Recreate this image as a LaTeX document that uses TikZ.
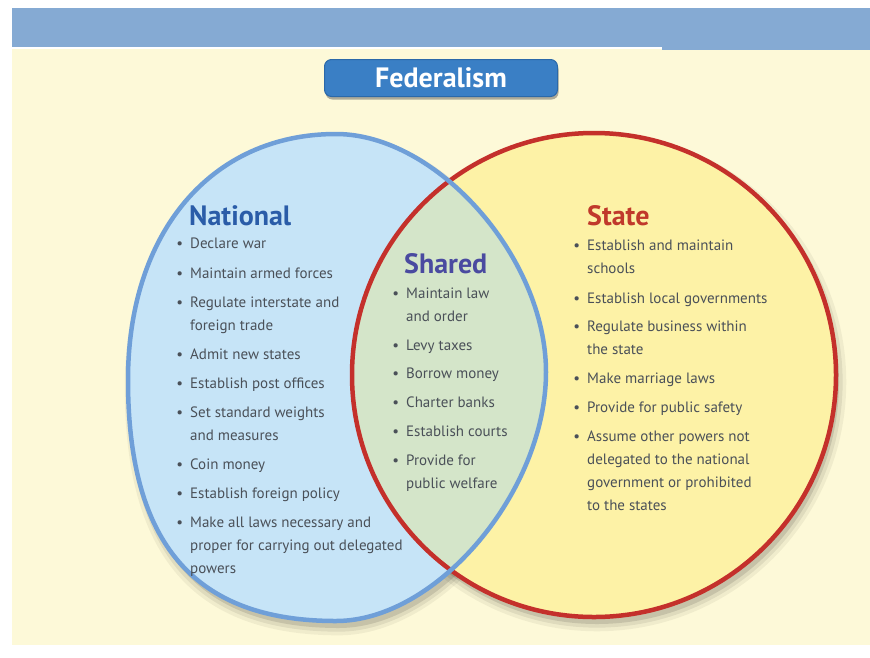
\documentclass[tikz,border=0pt]{standalone}
\usepackage{fontspec}
\setmainfont{PT Sans}
\usetikzlibrary{shadows}
\definecolor{cream}{HTML}{FDF9D8}
\definecolor{topbar}{HTML}{85AAD3}
\definecolor{lblue}{HTML}{C6E4F7}
\definecolor{yel}{HTML}{FDF2A6}
\definecolor{lens}{HTML}{D4E5C9}
\definecolor{bline}{HTML}{6F9FD8}
\definecolor{rline}{HTML}{C4302B}
\definecolor{natblue}{HTML}{2A5CA8}
\definecolor{statered}{HTML}{C0392B}
\definecolor{sharedc}{HTML}{4A4AA0}
\definecolor{txtgray}{HTML}{4A5058}
\definecolor{btnfill}{HTML}{3A7FC5}
\definecolor{btnedge}{HTML}{2B69A9}
\newcommand{\bl}{\llap{\textbullet\hspace{7pt}}}
\newcommand{\ml}[1]{\begin{tabular}[t]{@{}l@{}}#1\end{tabular}}
\tikzset{
  itemtxt/.style={anchor=base west, align=left, inner sep=0pt, text=txtgray,
    font=\fontsize{15}{23}\selectfont},
  headtxt/.style={anchor=base west, inner sep=0pt, font=\fontsize{28}{30}\selectfont\bfseries},
  btn/.style={rounded corners=7pt, fill=btnfill, draw=btnedge, line width=1pt,
    minimum width=233pt, minimum height=37pt, text=white,
    font=\fontsize{28}{30}\selectfont\bfseries,
    drop shadow={shadow xshift=1pt, shadow yshift=-3pt, opacity=0.45, fill=black!70}},
  natshape/.style={insert path={(336,134) .. controls (436.8,134) and (546,257.8) .. (546,372)
     .. controls (546,491.5) and (436.8,621) .. (336,621)
     .. controls (194.6,621) and (128,543.9) .. (128,380)
     .. controls (128,232.4) and (211.2,134) .. (336,134) -- cycle}},
}
\begin{document}
\begin{tikzpicture}[x=1pt,y=-1pt]
\useasboundingbox (0,0) rectangle (870,657);
\fill[white] (0,0) rectangle (870,657);
\fill[cream] (12,49) rectangle (870,645);
\fill[topbar] (12,8) rectangle (870,47);
\fill[topbar] (662,47) rectangle (870,49.5);
% shadows
\foreach \s/\o in {1.03/0.05,1.015/0.07,1.0/0.11}{
  \begin{scope}[shift={(339,384)}, scale=\s, shift={(-336,-377)}]
    \fill[black,opacity=\o, natshape];
  \end{scope}
  \begin{scope}[shift={(597,382)}, scale=\s]
    \fill[black,opacity=\o] (0,0) circle [radius=242];
  \end{scope}
}
% fills
\fill[lblue, natshape];
\fill[yel] (594,375) ellipse [x radius=242, y radius=242];
\begin{scope}
  \clip[natshape];
  \fill[lens] (594,375) ellipse [x radius=242, y radius=242];
\end{scope}
% outlines
\draw[rline, line width=4.5pt] (594,375) ellipse [x radius=242, y radius=242];
\draw[bline, line width=4.5pt, natshape];
% title button
\node[btn] (fed) at (441,78) {Federalism};
% National
\node[headtxt, text=natblue] (nat) at (189,225) {National};
\node[itemtxt] (n1) at (190,248) {\bl Declare war};
\node[itemtxt] (n2) at (190,278) {\bl Maintain armed forces};
\node[itemtxt] (n3) at (190,307) {\ml{\bl Regulate interstate and\\foreign trade}};
\node[itemtxt] (n4) at (190,359) {\bl Admit new states};
\node[itemtxt] (n5) at (190,388) {\bl Establish post offices};
\node[itemtxt] (n6) at (190,417) {\ml{\bl Set standard weights\\and measures}};
\node[itemtxt] (n7) at (190,469) {\bl Coin money};
\node[itemtxt] (n8) at (190,498) {\bl Establish foreign policy};
\node[itemtxt] (n9) at (190,527) {\ml{\bl Make all laws necessary and\\proper for carrying out delegated\\powers}};
% Shared
\node[headtxt, text=sharedc] (sh) at (404,273) {Shared};
\node[itemtxt] (s1) at (406,298) {\ml{\bl Maintain law\\and order}};
\node[itemtxt] (s2) at (406,350) {\bl Levy taxes};
\node[itemtxt] (s3) at (406,378) {\bl Borrow money};
\node[itemtxt] (s4) at (406,407) {\bl Charter banks};
\node[itemtxt] (s5) at (406,436) {\bl Establish courts};
\node[itemtxt] (s6) at (406,465) {\ml{\bl Provide for\\public welfare}};
% State
\node[headtxt, text=statered] (st) at (587,225) {State};
\node[itemtxt] (t1) at (587,250) {\ml{\bl Establish and maintain\\schools}};
\node[itemtxt] (t2) at (587,303) {\bl Establish local governments};
\node[itemtxt] (t3) at (587,331) {\ml{\bl Regulate business within\\the state}};
\node[itemtxt] (t4) at (587,383) {\bl Make marriage laws};
\node[itemtxt] (t5) at (587,412) {\bl Provide for public safety};
\node[itemtxt] (t6) at (587,441) {\ml{\bl Assume other powers not\\delegated to the national\\government or prohibited\\to the states}};
\end{tikzpicture}
\end{document}
